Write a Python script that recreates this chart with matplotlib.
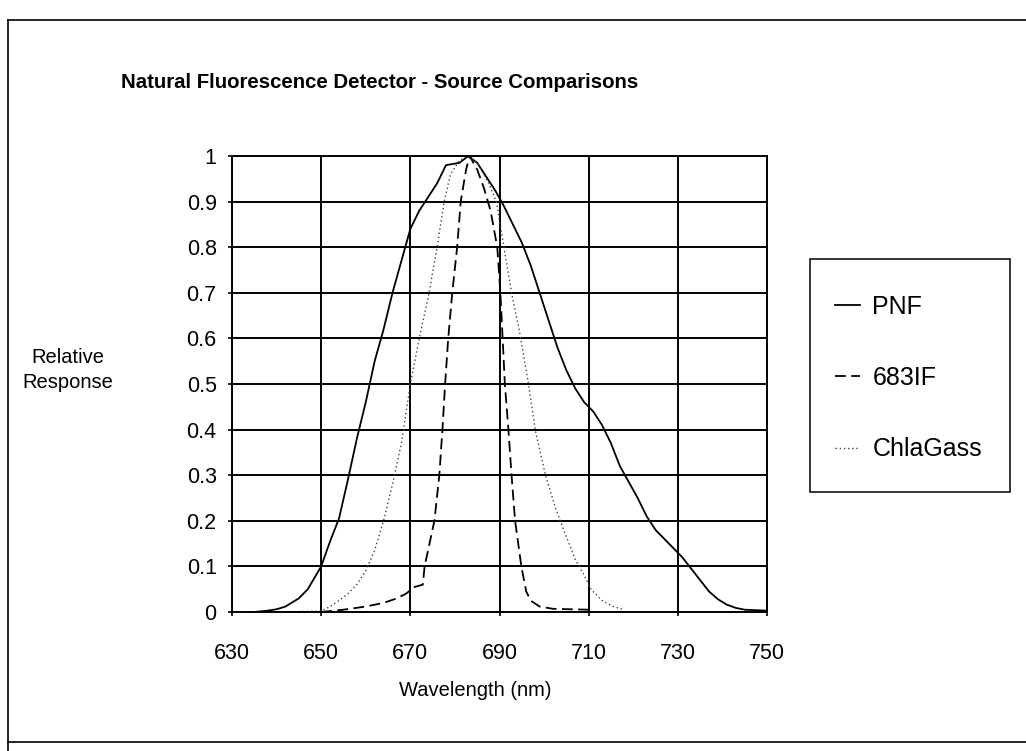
import matplotlib
matplotlib.use("Agg")
import matplotlib.pyplot as plt
from matplotlib.lines import Line2D
from matplotlib.patches import Rectangle

plt.rcParams['font.family'] = ['Liberation Sans', 'DejaVu Sans']

# ---- data ----
pnf_x = [635, 638, 640, 642, 645, 647, 650, 652, 654, 656, 658, 660, 662, 664, 666,
         668, 670, 672, 674, 676, 678, 681, 683, 685, 687, 689, 691, 693, 695, 697,
         699, 701, 703, 705, 707, 709, 711, 713, 715, 717, 719, 721, 723, 725, 727,
         729, 731, 733, 735, 737, 739, 741, 743, 745, 750]
pnf_y = [0.0, 0.003, 0.006, 0.012, 0.03, 0.05, 0.10, 0.155, 0.205, 0.29, 0.38, 0.46,
         0.55, 0.62, 0.70, 0.77, 0.84, 0.88, 0.91, 0.94, 0.98, 0.985, 1.0, 0.985,
         0.955, 0.925, 0.89, 0.85, 0.81, 0.76, 0.70, 0.64, 0.58, 0.53, 0.49, 0.46,
         0.44, 0.41, 0.37, 0.32, 0.285, 0.25, 0.21, 0.18, 0.16, 0.14, 0.12, 0.095,
         0.07, 0.045, 0.028, 0.016, 0.009, 0.005, 0.003]

if683_x = [650, 655, 660, 664, 667, 669, 671, 672.8, 673.2, 674.3, 675.4, 676.5,
           677.2, 677.8, 678.5, 679.4, 680.5, 681.3, 682.5, 683.3, 685, 686.5, 688,
           689.5, 690.2, 690.7, 691.2, 692, 692.7, 693.5, 694.9, 696, 697, 699, 702,
           710]
if683_y = [0.0, 0.005, 0.012, 0.02, 0.03, 0.04, 0.055, 0.06, 0.10, 0.15, 0.20, 0.30,
           0.40, 0.50, 0.60, 0.70, 0.80, 0.90, 0.97, 1.0, 0.97, 0.93, 0.88, 0.80,
           0.70, 0.60, 0.50, 0.40, 0.30, 0.20, 0.10, 0.045, 0.025, 0.012, 0.007,
           0.005]

chla_x = [630, 640, 650, 652, 654, 656, 658, 660, 662, 664, 666, 668, 670, 672, 674,
          676, 677.6, 679, 681, 683, 685, 687.6, 689.3, 691, 692.7, 694.4, 696.5,
          698, 700.3, 702.5, 704, 707, 709, 710.5, 713, 715.5, 718]
chla_y = [0.0, 0.0, 0.002, 0.012, 0.025, 0.04, 0.06, 0.09, 0.135, 0.20, 0.28, 0.37,
          0.50, 0.60, 0.69, 0.80, 0.90, 0.96, 0.99, 1.0, 0.985, 0.94, 0.90, 0.80,
          0.70, 0.62, 0.50, 0.40, 0.30, 0.23, 0.19, 0.115, 0.08, 0.05, 0.025,
          0.012, 0.005]

series_names = ['PNF', '683IF', 'ChlaGass']
x_ticks = [630, 650, 670, 690, 710, 730, 750]
y_ticks = [0, 0.1, 0.2, 0.3, 0.4, 0.5, 0.6, 0.7, 0.8, 0.9, 1]
y_tick_labels = ['0', '0.1', '0.2', '0.3', '0.4', '0.5', '0.6', '0.7', '0.8', '0.9', '1']

W, H = 1026, 751
fig = plt.figure(figsize=(W / 100, H / 100), dpi=100)
fig.patch.set_facecolor('white')

# axes placement (pixels -> figure fraction)
L, R, T, B = 232, 767, 156, 612
ax = fig.add_axes([L / W, 1 - B / H, (R - L) / W, (B - T) / H])

ax.plot(pnf_x, pnf_y, color='black', lw=1.3, label=series_names[0])
ax.plot(if683_x, if683_y, color='black', lw=1.3, dashes=(6, 3), label=series_names[1])
ax.plot(chla_x, chla_y, color='#444444', lw=1.0, dashes=(1, 2), label=series_names[2])

ax.set_xlim(630, 750)
ax.set_ylim(0, 1)
ax.set_xticks(x_ticks)
ax.set_yticks(y_ticks)
ax.set_yticklabels(y_tick_labels)
ax.grid(True, color='black', lw=1.4)
ax.set_axisbelow(True)
for s in ax.spines.values():
    s.set_color('black')
    s.set_linewidth(1.4)
ax.tick_params(axis='both', direction='out', length=3, width=1.2, colors='black',
               labelsize=15.5)
ax.tick_params(axis='x', pad=19)
ax.tick_params(axis='y', pad=8)

# legend (entries) and its box
leg = ax.legend(loc='center left', bbox_to_anchor=(835 / W, 1 - 378 / H),
                bbox_transform=fig.transFigure, frameon=False, fontsize=18,
                handlelength=1.0, handletextpad=0.5, labelspacing=1.9,
                borderpad=0, borderaxespad=0)
fig.add_artist(Rectangle((810 / W, 1 - 492 / H), 200 / W, (492 - 259) / H,
                         transform=fig.transFigure, fill=False, edgecolor='black',
                         lw=1.1))

# texts
fig.text(380 / W, 1 - 82 / H, 'Natural Fluorescence Detector - Source Comparisons',
         ha='center', va='center', fontsize=14.7, fontweight='bold')
fig.text(68 / W, 1 - 370 / H, 'Relative\nResponse', ha='center', va='center',
         fontsize=14.5, linespacing=1.45)
fig.text(475 / W, 1 - 690 / H, 'Wavelength (nm)', ha='center', va='center',
         fontsize=14.5)

# outer frame of the original chart
frame_kw = dict(color='black', lw=1.2, transform=fig.transFigure)
fig.add_artist(Line2D([8 / W, 1.01], [1 - 20 / H, 1 - 20 / H], **frame_kw))
fig.add_artist(Line2D([8 / W, 1.01], [1 - 742 / H, 1 - 742 / H], **frame_kw))
fig.add_artist(Line2D([8 / W, 8 / W], [1 - 20 / H, 0], **frame_kw))

fig.savefig('out.png', dpi=100)
